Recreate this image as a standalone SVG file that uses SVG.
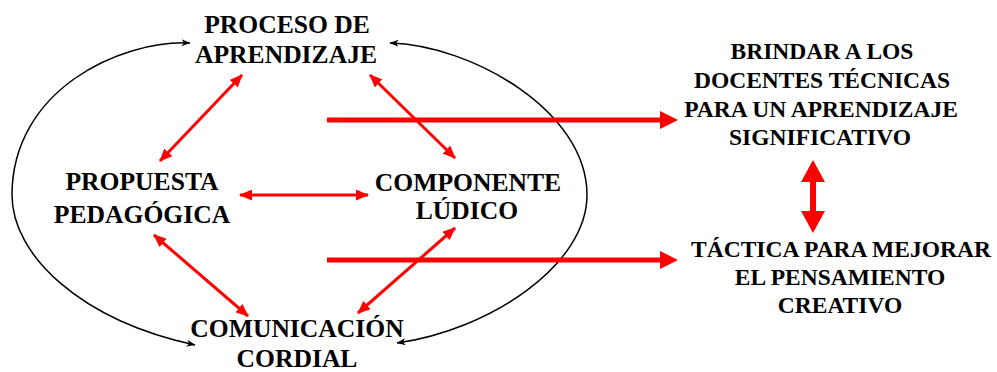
<svg xmlns="http://www.w3.org/2000/svg" width="997" height="372" viewBox="0 0 997 372">
<style>
  .t { font-family: "Liberation Serif", "Times New Roman", Tinos, "Nimbus Roman", "Nimbus Roman No9 L", FreeSerif, "Noto Serif", "DejaVu Serif", Georgia, serif; font-weight: bold; fill: #000; text-anchor: middle; }
  .big { font-size: 25.6px; }
  .small { font-size: 23.5px; }
  .arc { fill: none; stroke: #000; stroke-width: 1.5; marker-start: url(#bh); marker-end: url(#bh); }
  .red { fill: none; stroke: #ff0000; stroke-width: 3; marker-start: url(#rh); marker-end: url(#rh); }
  .thick { fill: none; stroke: #ff0000; stroke-width: 5; marker-end: url(#th); }
</style>
<defs>
  <marker id="bh" markerUnits="userSpaceOnUse" viewBox="0 0 9 7" markerWidth="9" markerHeight="7" refX="8.5" refY="3.5" orient="auto-start-reverse">
    <path d="M0,0 L9,3.5 L0,7 L2.5,3.5 z" fill="#000"/>
  </marker>
  <marker id="rh" markerUnits="userSpaceOnUse" viewBox="0 0 13 11" markerWidth="13" markerHeight="11" refX="12" refY="5.5" orient="auto-start-reverse">
    <path d="M0,0 L13,5.5 L0,11 z" fill="#ff0000"/>
  </marker>
  <marker id="th" markerUnits="userSpaceOnUse" viewBox="0 0 18 18" markerWidth="18" markerHeight="18" refX="1" refY="9" orient="auto-start-reverse">
    <path d="M0,0 L18,9 L0,18 z" fill="#ff0000"/>
  </marker>
  <marker id="vh" markerUnits="userSpaceOnUse" viewBox="0 0 22 24" markerWidth="22" markerHeight="24" refX="1" refY="12" orient="auto-start-reverse">
    <path d="M0,0 L22,12 L0,24 z" fill="#ff0000"/>
  </marker>
</defs>

<g id="connectors">
  <path class="arc" d="M190,43 C120,40 12,90 12,195 C12,255 80,320 195,345"/>
  <path class="arc" d="M390,43 C470,45 587,110 587,195 C587,265 490,330 397,343"/>
  <line class="red" x1="242" y1="75" x2="160" y2="161"/>
  <line class="red" x1="370" y1="75" x2="455" y2="158"/>
  <line class="red" x1="240" y1="195" x2="368" y2="195"/>
  <line class="red" x1="154" y1="235" x2="248" y2="316"/>
  <line class="red" x1="455" y1="228" x2="358" y2="313"/>
  <line class="thick" x1="327" y1="120" x2="661" y2="120"/>
  <line class="thick" x1="327" y1="260" x2="661" y2="260"/>
  <line x1="813" y1="181" x2="813" y2="212" stroke="#ff0000" stroke-width="6" marker-start="url(#vh)" marker-end="url(#vh)"/>
</g>

<g id="proceso">
  <text class="t big" x="287" y="33">PROCESO DE</text>
  <text class="t big" x="286" y="63">APRENDIZAJE</text>
</g>
<g id="propuesta">
  <text class="t big" x="142" y="190">PROPUESTA</text>
  <text class="t big" x="142" y="223">PEDAGÓGICA</text>
</g>
<g id="componente">
  <text class="t big" x="468" y="191">COMPONENTE</text>
  <text class="t big" x="467" y="219">LÚDICO</text>
</g>
<g id="comunicacion">
  <text class="t big" x="297" y="337">COMUNICACIÓN</text>
  <text class="t big" x="297" y="367">CORDIAL</text>
</g>
<g id="brindar">
  <text class="t small" x="822" y="59">BRINDAR A LOS</text>
  <text class="t small" x="822" y="88">DOCENTES TÉCNICAS</text>
  <text class="t small" x="821" y="117">PARA UN APRENDIZAJE</text>
  <text class="t small" x="820" y="145">SIGNIFICATIVO</text>
</g>
<g id="tactica">
  <text class="t small" x="841" y="257">TÁCTICA PARA MEJORAR</text>
  <text class="t small" x="840" y="285">EL PENSAMIENTO</text>
  <text class="t small" x="840" y="313">CREATIVO</text>
</g>
</svg>
